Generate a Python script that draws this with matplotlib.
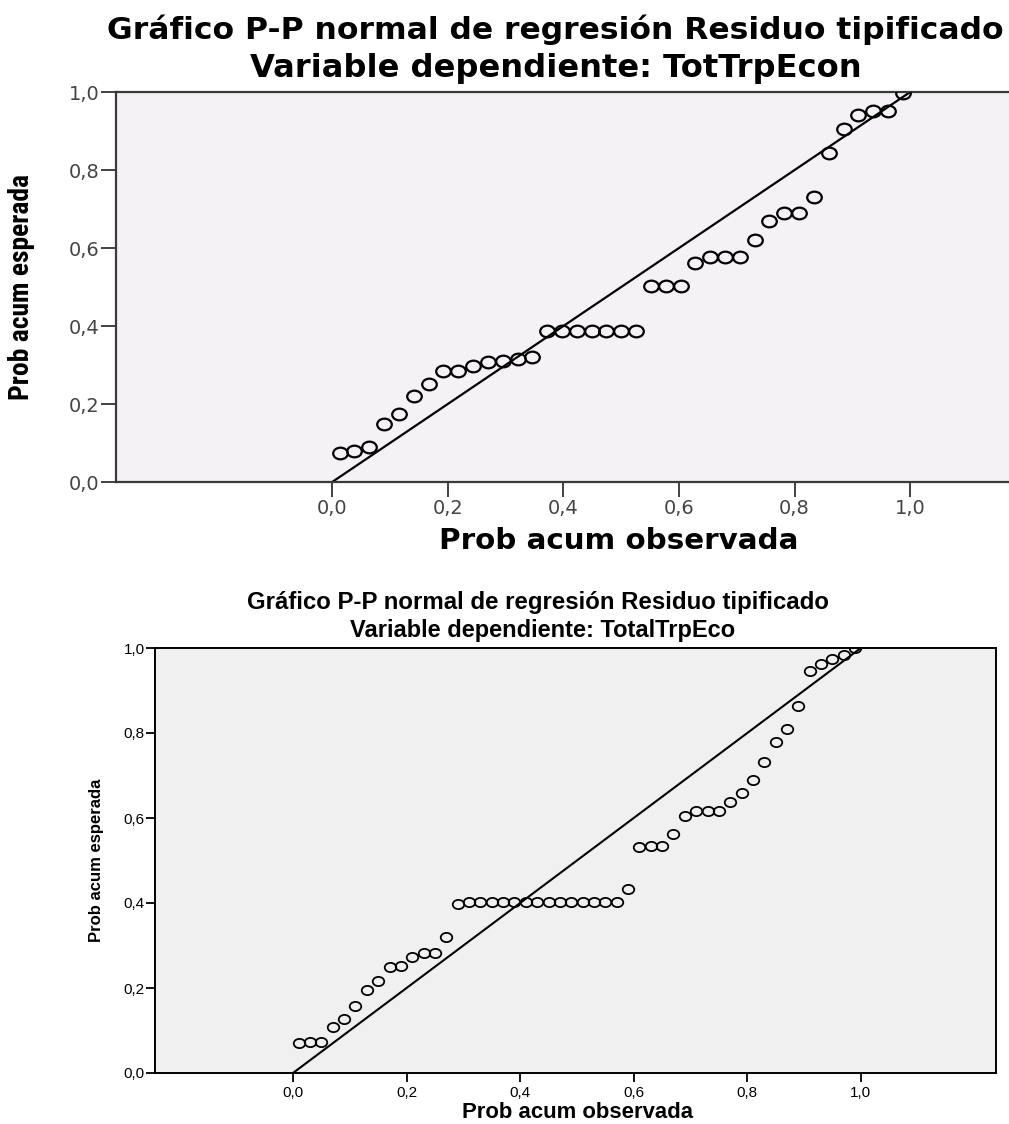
import matplotlib
matplotlib.use("Agg")
import matplotlib.pyplot as plt
from matplotlib.path import Path
from matplotlib.transforms import Affine2D

# ---- data ----
ticks = [0.0, 0.2, 0.4, 0.6, 0.8, 1.0]
tick_labels = ["0,0", "0,2", "0,4", "0,6", "0,8", "1,0"]
diag = [0.0, 1.0]

# panel 1: TotTrpEcon (39 residuals)
obs_1 = [0.013, 0.038, 0.064, 0.090, 0.115, 0.141, 0.167, 0.192, 0.218, 0.244,
         0.269, 0.295, 0.321, 0.346, 0.372, 0.397, 0.423, 0.449, 0.474, 0.500,
         0.526, 0.551, 0.577, 0.603, 0.628, 0.654, 0.679, 0.705, 0.731, 0.756,
         0.782, 0.808, 0.833, 0.859, 0.885, 0.910, 0.936, 0.962, 0.987]
exp_1 = [0.075, 0.080, 0.090, 0.149, 0.174, 0.221, 0.251, 0.284, 0.285, 0.297,
         0.308, 0.311, 0.316, 0.320, 0.387, 0.387, 0.387, 0.387, 0.387, 0.387,
         0.387, 0.503, 0.503, 0.503, 0.561, 0.576, 0.578, 0.578, 0.620, 0.668,
         0.690, 0.690, 0.731, 0.843, 0.905, 0.941, 0.952, 0.952, 0.998]

# panel 2: TotalTrpEco (50 residuals)
obs_2 = [0.01, 0.03, 0.05, 0.07, 0.09, 0.11, 0.13, 0.15, 0.17, 0.19,
         0.21, 0.23, 0.25, 0.27, 0.29, 0.31, 0.33, 0.35, 0.37, 0.39,
         0.41, 0.43, 0.45, 0.47, 0.49, 0.51, 0.53, 0.55, 0.57, 0.59,
         0.61, 0.63, 0.65, 0.67, 0.69, 0.71, 0.73, 0.75, 0.77, 0.79,
         0.81, 0.83, 0.85, 0.87, 0.89, 0.91, 0.93, 0.95, 0.97, 0.99]
exp_2 = [0.070, 0.074, 0.074, 0.109, 0.126, 0.158, 0.195, 0.216, 0.250, 0.252,
         0.272, 0.283, 0.283, 0.321, 0.398, 0.402, 0.402, 0.402, 0.402, 0.402,
         0.402, 0.402, 0.402, 0.402, 0.402, 0.402, 0.402, 0.402, 0.402, 0.432,
         0.531, 0.533, 0.533, 0.562, 0.605, 0.616, 0.616, 0.616, 0.637, 0.660,
         0.689, 0.732, 0.780, 0.809, 0.863, 0.946, 0.962, 0.974, 0.983, 1.000]

W, H = 1009, 1124
fig = plt.figure(figsize=(W / 100, H / 100), dpi=100)
renderer = fig.canvas.get_renderer()

# slightly squashed circle, as in the original export
ellipse = Path.unit_circle().transformed(Affine2D().scale(1.0, 0.8))
narrow = ["Liberation Sans Narrow", "Roboto Condensed", "DejaVu Sans Condensed",
          "DejaVu Sans"]


def fit(t, px, vertical=False):
    bb = t.get_window_extent(renderer)
    cur = bb.height if vertical else bb.width
    t.set_fontsize(t.get_fontsize() * px / cur)


def box(x0, y0, x1, y1):
    return [x0 / W, 1 - y1 / H, (x1 - x0) / W, (y1 - y0) / H]


# ---- top panel ----
ax1 = fig.add_axes(box(116, 92, 1016, 482))
ax1.set_facecolor("#f5f2f5")
ax1.plot(diag, diag, color="black", lw=1.6, zorder=2)
ax1.plot(obs_1, exp_1, ls="none", marker=ellipse, ms=10.5, mfc="none",
         mec="black", mew=1.6, zorder=3)
ax1.set_xlim(-0.374, 1.183)
ax1.set_ylim(0, 1)
ax1.set_xticks(ticks, tick_labels)
ax1.set_yticks(ticks, tick_labels)
ax1.tick_params(length=11, width=1.3, color="#333333", pad=1,
                labelsize=14, labelcolor="#444444")
for s in ax1.spines.values():
    s.set_color("#3a3a3a")
    s.set_linewidth(1.6)
ax1.spines["right"].set_visible(False)

t = fig.text(555 / W, 1 - 30 / H, "Gráfico P-P normal de regresión Residuo tipificado",
             ha="center", va="center", weight="bold", family="DejaVu Sans", size=20)
fit(t, 898)
t = fig.text(556 / W, 1 - 69 / H, "Variable dependiente: TotTrpEcon",
             ha="center", va="center", weight="bold", family="DejaVu Sans", size=20)
fit(t, 611)
t = ax1.set_xlabel("Prob acum observada", weight="bold", va="center", size=18)
ax1.xaxis.set_label_coords((619 - 116) / 900, (482 - 541) / 390)
fit(t, 360)
t = ax1.set_ylabel("Prob acum esperada", weight="bold", va="center", size=18,
                   family=narrow, fontstretch="condensed")
ax1.yaxis.set_label_coords((22 - 116) / 900, 0.5)
fit(t, 227, vertical=True)

# ---- bottom panel ----
ax2 = fig.add_axes(box(155, 648, 996, 1073))
ax2.set_facecolor("#f0f0f0")
ax2.plot(diag, diag, color="black", lw=1.5, zorder=2)
ax2.plot(obs_2, exp_2, ls="none", marker=ellipse, ms=8.3, mfc="none",
         mec="black", mew=1.3, zorder=3)
ax2.set_xlim(-0.243, 1.238)
ax2.set_ylim(0, 1)
ax2.set_xticks(ticks, tick_labels)
ax2.set_yticks(ticks, tick_labels)
ax2.tick_params(length=6.5, width=1.3, color="black", pad=1,
                labelsize=11, labelcolor="black", labelfontfamily="Liberation Sans")
ax2.tick_params(axis="x", pad=3)
for s in ax2.spines.values():
    s.set_color("black")
    s.set_linewidth(1.4)

t = fig.text(538 / W, 1 - 602 / H, "Gráfico P-P normal de regresión Residuo tipificado",
             ha="center", va="center", weight="bold", family="Liberation Sans", size=14)
fit(t, 583)
t = fig.text(543 / W, 1 - 630 / H, "Variable dependiente: TotalTrpEco",
             ha="center", va="center", weight="bold", family="Liberation Sans", size=14)
fit(t, 387)
t = ax2.set_xlabel("Prob acum observada", weight="bold", va="center",
                   family="Liberation Sans", size=14)
ax2.xaxis.set_label_coords((578 - 155) / 841, (1073 - 1112) / 425)
fit(t, 232)
t = ax2.set_ylabel("Prob acum esperada", weight="bold", va="center",
                   family="Liberation Sans", size=14)
ax2.yaxis.set_label_coords((97 - 155) / 841, 0.5)
fit(t, 164, vertical=True)

fig.savefig("out.png", dpi=100)
